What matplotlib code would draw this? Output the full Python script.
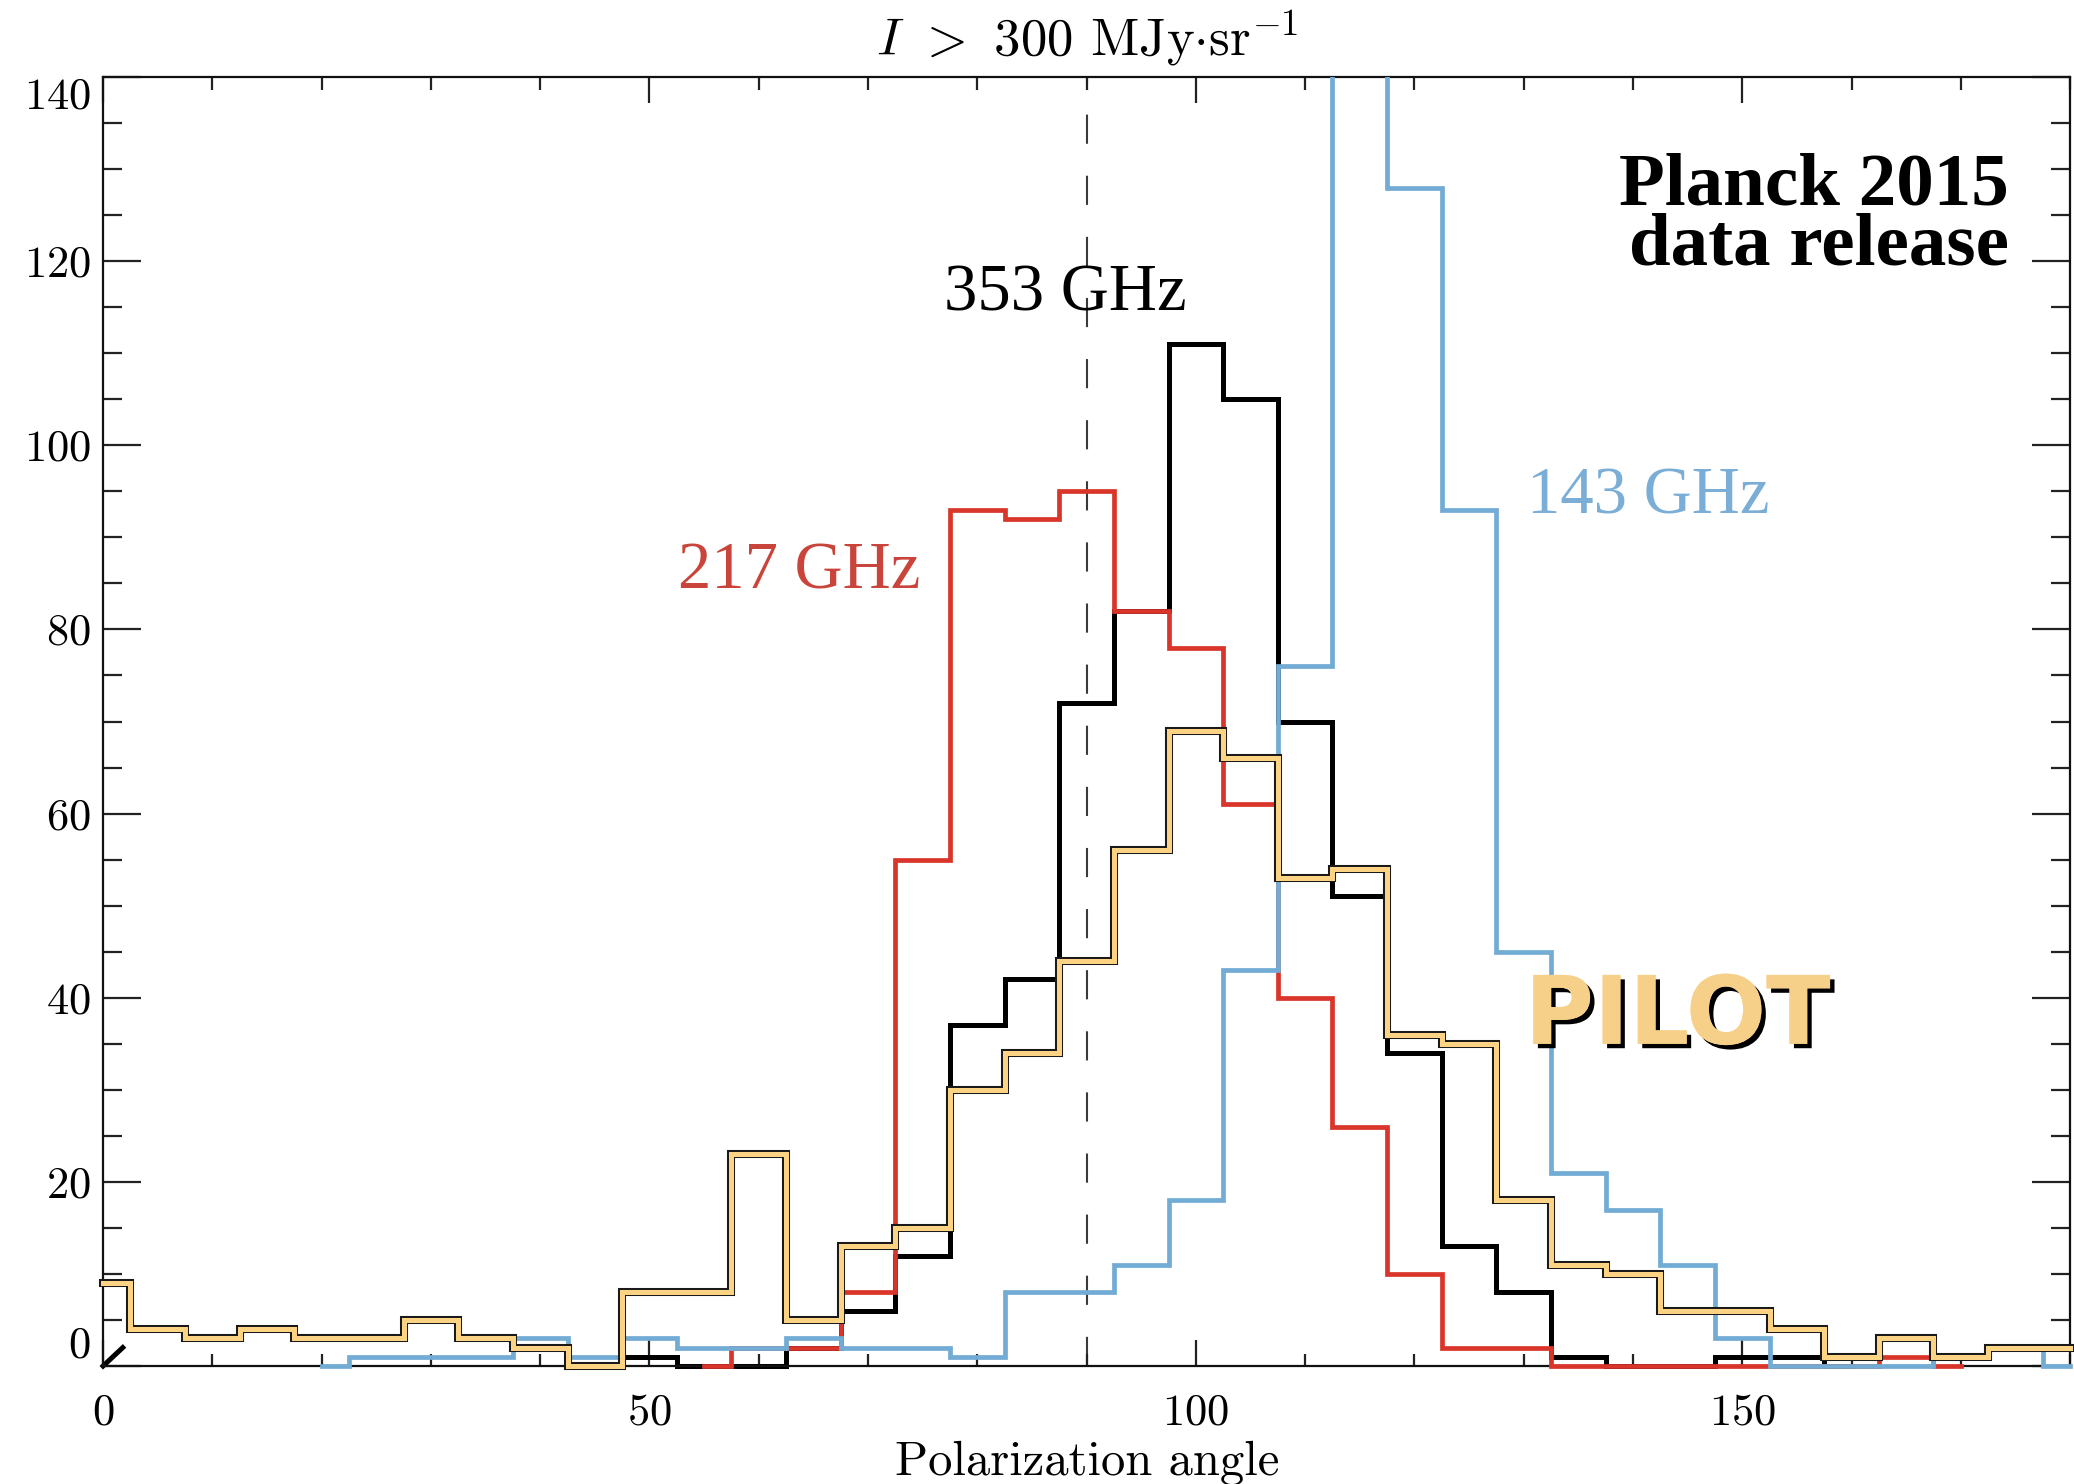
import matplotlib
matplotlib.use("Agg")
import matplotlib.pyplot as plt
import numpy as np
from matplotlib.patches import Rectangle
import matplotlib.patheffects as pe

plt.rcParams["font.family"] = "cmr10"
plt.rcParams["mathtext.fontset"] = "cm"
plt.rcParams["axes.formatter.use_mathtext"] = True
plt.rcParams["lines.scale_dashes"] = False

# ---------------- data (histogram counts, bin centres in degrees) ----------------
pilot_x = list(range(0, 181, 5))
pilot_y = [9, 4, 3, 4, 3, 3, 5, 3, 2, 0, 8, 8, 23, 5, 13, 15, 30, 34, 44, 56,
           69, 66, 53, 54, 36, 35, 18, 11, 10, 6, 6, 4, 1, 3, 1, 2, 2]

ghz353_x = list(range(45, 161, 5))
ghz353_y = [0, 1, 0, 0, 2, 6, 12, 37, 42, 72, 82, 111, 105, 70, 51, 34, 13, 8,
            1, 0, 0, 1, 1, 0]
ghz353_origin_x = [0, 1.8]
ghz353_origin_y = [0, 2]

ghz217_x = list(range(55, 171, 5))
ghz217_y = [0, 2, 2, 8, 55, 93, 92, 95, 82, 78, 61, 40, 26, 10, 2, 2, 0, 0, 0,
            0, 0, 0, 1, 0]

ghz143_x = list(range(20, 181, 5))
ghz143_y = [0, 1, 1, 1, 3, 1, 3, 2, 2, 3, 2, 2, 1, 8, 8, 11, 18, 43, 76, 150,
            128, 93, 45, 21, 17, 11, 3, 0, 0, 0, 1, 2, 0]

ref_angle = 90
x_major = [0, 50, 100, 150]
y_major = [0, 20, 40, 60, 80, 100, 120, 140]

# ---------------- figure ----------------
fig = plt.figure(figsize=(10.37, 7.42), dpi=200)
ax = fig.add_axes([0.0497, 0.0795, 0.9484, 0.8686])
ax.set_xlim(0, 180)
ax.set_ylim(0, 140)

clip = Rectangle((-0.01, -0.012), 1.02, 1.012, transform=ax.transAxes,
                 facecolor="none", edgecolor="none")

ax.axvline(ref_angle, color="#3a3a3a", lw=0.75, dashes=(10.5, 11.5), zorder=1)

c_black = "#000000"
c_red = "#d9352a"
c_blue = "#72acd5"
c_orange = "#fcd283"

lines = []
lines += ax.step(ghz353_x, ghz353_y, where="mid", color=c_black, lw=1.8, zorder=2)
lines += ax.plot(ghz353_origin_x, ghz353_origin_y, color=c_black, lw=1.8, zorder=2)
lines += ax.step(ghz217_x, ghz217_y, where="mid", color=c_red, lw=1.7, zorder=3)
lines += ax.step(ghz143_x, ghz143_y, where="mid", color=c_blue, lw=1.7, zorder=4)
lines += ax.step(pilot_x, pilot_y, where="mid", color="#1a1a1a", lw=2.9, zorder=5)
lines += ax.step(pilot_x, pilot_y, where="mid", color=c_orange, lw=1.8, zorder=6)
for ln in lines:
    ln.set_clip_path(clip)
    ln.set_solid_joinstyle("miter")

# ---------------- axes styling ----------------
ax.set_xticks(x_major)
ax.set_xticks(np.arange(0, 181, 10), minor=True)
ax.set_yticks(y_major)
ax.set_yticks(np.arange(0, 141, 5), minor=True)
ax.tick_params(axis="both", which="both", direction="in", top=True, right=True,
               color="#222222", width=0.8)
ax.tick_params(axis="y", which="major", length=13.7, pad=4.5, labelsize=16)
ax.tick_params(axis="y", which="minor", length=6.8)
ax.tick_params(axis="x", which="major", length=9.2, pad=10, labelsize=16)
ax.tick_params(axis="x", which="minor", length=4.5)
for s in ax.spines.values():
    s.set_linewidth(0.8)
    s.set_color("#111111")

ticks_y = ax.yaxis.get_major_ticks()
ticks_y[0].label1.set_verticalalignment("bottom")
ticks_y[-1].label1.set_verticalalignment("top")

fig.text(0.524, 0.9625, r"$I$ $>$ 300 MJy$\cdot$sr$^{-1}$", ha="center",
         va="baseline", fontsize=19, family="cmr10")
fig.text(0.524, 0.0065, "Polarization angle", ha="center", va="baseline",
         fontsize=17.5, family="cmr10")

# ---------------- annotations ----------------
serif = ["Liberation Serif", "DejaVu Serif"]
ax.text(88.1, 114.6, "353 GHz", ha="center", va="baseline", fontsize=24,
        family=serif, color="black")
ax.text(63.7, 84.4, "217 GHz", ha="center", va="baseline", fontsize=24,
        family=serif, color="#c9443a")
ax.text(141.4, 92.6, "143 GHz", ha="center", va="baseline", fontsize=24,
        family=serif, color="#7aaed6")
ax.text(174.4, 119.6, "Planck 2015\ndata release", ha="right", va="baseline",
        multialignment="right", linespacing=0.86, fontsize=27,
        family=serif, weight="bold", color="black")
ax.text(144.1, 35.0, "PILOT", ha="center", va="baseline", fontsize=34,
        family=["DejaVu Sans"], weight="bold", color="#f6d088", zorder=7,
        path_effects=[pe.withSimplePatchShadow(offset=(1.6, -1.6),
                                               shadow_rgbFace="black", alpha=1.0),
                      pe.Normal()])

fig.savefig("out.png", dpi=200)
